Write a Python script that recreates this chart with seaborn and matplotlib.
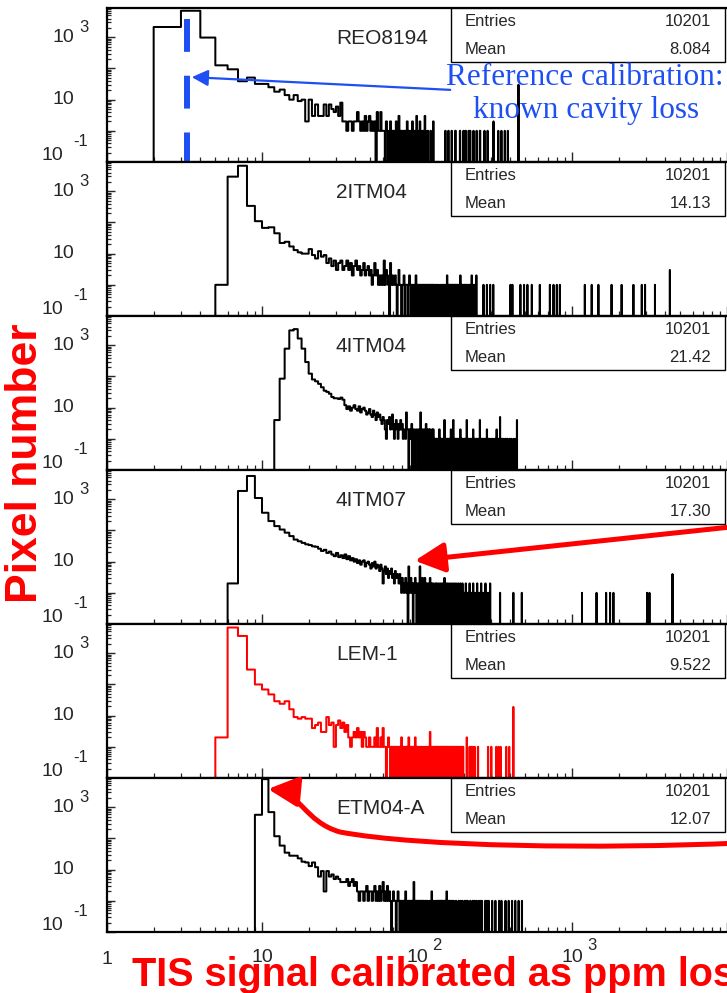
import numpy as np
import pandas as pd
import matplotlib
matplotlib.use("Agg")
import matplotlib.pyplot as plt
import seaborn as sns
from matplotlib.path import Path
from matplotlib.patches import FancyArrowPatch, Rectangle
from matplotlib.ticker import LogLocator, NullFormatter, FixedLocator
from matplotlib.transforms import Affine2D

# ---------------- data ----------------
detectors = ["REO8194", "2ITM04", "4ITM04", "4ITM07", "LEM-1", "ETM04-A"]
entries = ["10201", "10201", "10201", "10201", "10201", "10201"]
means = ["8.084", "14.13", "21.42", "17.30", "9.522", "12.07"]
line_colors = ["black", "black", "black", "black", "#ff0000", "black"]

# bins have unit width; head = consecutive bins from *_start, tail = (bin, count)
p1_start = 2
p1_head = [2140, 7100, 980, 126, 94, 39, 51, 32, 32, 25, 18, 21, 14, 10, 14, 9, 10, 2,
           10, 3, 7, 3, 3, 7, 3, 7, 5, 4, 6, 3, 8]
p1_tail = [(33, 2), (34, 2), (35, 1), (36, 2), (37, 2), (38, 1), (39, 2), (40, 2), (41, 4), (42, 2),
           (43, 1), (44, 2), (45, 1), (46, 3), (47, 1), (48, 2), (49, 3), (50, 1), (51, 2), (52, 1),
           (53, 2), (55, 4), (56, 1), (57, 1), (58, 4), (59, 1), (60, 1), (61, 1), (63, 2), (64, 1),
           (66, 1), (67, 2), (69, 1), (70, 1), (72, 1), (73, 2), (75, 1), (76, 3), (78, 1), (80, 1),
           (82, 1), (84, 1), (86, 2), (88, 1), (91, 1), (93, 2), (95, 1), (98, 1), (99, 3), (101, 1),
           (104, 2), (107, 1), (110, 1), (112, 3), (113, 1), (117, 1), (122, 1), (127, 2), (152, 1),
           (159, 1), (167, 1), (176, 1), (177, 1), (189, 1), (199, 1), (205, 1), (206, 1), (215, 1),
           (220, 1), (231, 1), (242, 1), (254, 1), (255, 1), (272, 1), (285, 1), (311, 2), (334, 1),
           (350, 1), (368, 1), (385, 1), (451, 30)]

p2_start = 5
p2_head = [1, 2950, 6600, 340, 110, 67, 70, 45, 22, 24, 17, 13, 11, 10, 10, 14, 9, 7, 12, 8,
           9, 5, 7, 4, 6, 3, 5, 6, 3, 4, 6, 3, 5, 2, 4, 6, 3, 4, 2, 3, 5, 2, 3, 4, 2, 3, 1, 2,
           5, 2, 3, 1, 2]
p2_tail = [(58, 1), (59, 2), (60, 1), (61, 6), (62, 1), (63, 3), (64, 2), (65, 1), (67, 5), (68, 1),
           (69, 2), (70, 1), (71, 1), (72, 2), (73, 1), (75, 1), (76, 3), (77, 1), (78, 1), (80, 1),
           (81, 1), (82, 2), (84, 1), (85, 1), (86, 1), (88, 1), (89, 2), (90, 1), (92, 1), (93, 1),
           (95, 1), (97, 1), (98, 2), (100, 1), (101, 1), (103, 1), (105, 1), (106, 1), (108, 1),
           (110, 1), (112, 1), (113, 1), (115, 1), (117, 1), (119, 1), (121, 1), (122, 1), (124, 1),
           (126, 1), (128, 1), (131, 1), (134, 1), (137, 1), (141, 1), (145, 1), (148, 1), (151, 1),
           (154, 1), (156, 2), (158, 1), (160, 1), (162, 1), (164, 1), (166, 1), (168, 1), (170, 1),
           (173, 1), (175, 1), (177, 1), (180, 1), (182, 1), (185, 1), (188, 1), (190, 2), (193, 1),
           (196, 1), (199, 1), (202, 1), (205, 1), (208, 1), (211, 1), (214, 1), (218, 1), (221, 1),
           (225, 2), (229, 1), (233, 1), (237, 1), (241, 2), (268, 1), (282, 1), (296, 1), (310, 1),
           (400, 1), (412, 1), (464, 1), (490, 1), (515, 1), (550, 1), (620, 1), (720, 1), (760, 1),
           (798, 1), (835, 1), (1210, 1), (1340, 1), (1480, 1), (1800, 1), (2090, 1), (2490, 1),
           (2820, 1), (2960, 1), (3430, 1), (4280, 3)]

p3_start = 12
p3_head = [4, 85, 780, 3000, 3300, 1650, 780, 290, 123, 80, 70, 58, 45, 35, 32, 28, 22, 20, 20,
           19, 21, 18, 12, 9, 11, 8, 10, 12, 9, 8, 11, 7, 9, 10, 8, 6, 7, 9, 6, 5, 8, 6, 4, 7, 5,
           6, 4, 3, 5, 4, 2, 1, 4, 3, 5, 2, 3, 6, 2, 1, 3, 4, 2, 1, 3, 2, 4, 2, 3, 1, 2]
p3_tail = [(83, 2), (84, 1), (85, 7), (86, 2), (87, 2), (89, 2), (90, 1), (91, 2), (92, 3), (94, 2),
           (95, 2), (96, 1), (98, 2), (99, 2), (100, 1), (102, 2), (103, 2), (105, 7), (106, 2),
           (108, 2), (109, 1), (111, 2), (112, 2), (114, 3), (116, 2), (117, 1), (119, 2), (121, 2),
           (123, 1), (125, 2), (127, 2), (129, 1), (131, 1), (133, 1), (134, 1), (136, 1), (138, 1),
           (139, 2), (141, 1), (143, 1), (145, 1), (147, 1), (148, 1), (150, 4), (152, 1), (154, 1),
           (155, 1), (157, 1), (159, 1), (160, 1), (162, 1), (164, 1), (165, 2), (168, 1), (170, 1),
           (171, 4), (174, 1), (176, 1), (177, 1), (180, 1), (182, 1), (183, 1), (186, 1), (188, 1),
           (190, 2), (193, 1), (194, 1), (196, 1), (200, 1), (202, 1), (204, 1), (207, 1), (209, 4),
           (213, 1), (215, 1), (217, 1), (221, 1), (223, 1), (226, 1), (230, 2), (233, 1), (235, 1),
           (240, 1), (242, 1), (245, 1), (249, 1), (254, 4), (259, 1), (262, 1), (264, 1), (270, 1),
           (273, 1), (276, 1), (282, 2), (288, 1), (291, 1), (295, 1), (302, 1), (306, 1), (310, 1),
           (318, 1), (322, 1), (326, 2), (334, 1), (338, 1), (343, 5), (352, 1), (357, 1), (362, 1),
           (372, 1), (377, 1), (383, 1), (395, 1), (405, 1), (418, 1), (430, 1), (441, 4)]

p4_start = 6
p4_head = [2, 1850, 5600, 1100, 370, 200, 138, 107, 85, 66, 51, 45, 40, 36, 34, 31, 30, 26, 22,
           24, 19, 21, 17, 15, 19, 14, 16, 13, 17, 12, 15, 11, 13, 10, 12, 9, 11, 8, 10, 11, 7, 9,
           10, 8, 6, 9, 7, 10, 6, 8, 7, 5, 8, 6, 2, 5, 7, 4, 6, 3, 5, 4, 6, 3, 4, 2, 5, 3, 4, 3, 2, 4]
p4_tail = [(78, 2), (79, 1), (80, 3), (81, 2), (82, 1), (83, 2), (84, 3), (85, 1), (86, 2), (88, 7),
           (89, 1), (90, 2), (91, 3), (92, 1), (93, 2), (95, 2), (96, 1), (97, 3), (98, 2), (100, 1),
           (101, 2), (102, 1), (104, 7), (105, 2), (106, 1), (108, 3), (109, 1), (110, 2), (112, 3),
           (113, 1), (115, 2), (116, 1), (118, 2), (119, 1), (121, 3), (122, 1), (124, 2), (126, 1),
           (127, 2), (129, 1), (131, 2), (133, 1), (134, 2), (136, 1), (138, 2), (140, 1), (142, 2),
           (144, 1), (146, 2), (148, 1), (150, 3), (152, 1), (154, 2), (156, 1), (158, 2), (160, 1),
           (163, 2), (165, 1), (168, 2), (170, 1), (173, 2), (175, 1), (178, 2), (181, 1), (184, 2),
           (187, 1), (190, 2), (193, 1), (196, 2), (199, 1), (203, 1), (206, 2), (210, 1), (214, 1),
           (218, 2), (222, 1), (226, 1), (230, 2), (235, 1), (240, 1), (244, 2), (249, 1), (254, 1),
           (259, 2), (264, 1), (270, 1), (276, 2), (282, 1), (289, 1), (296, 2), (343, 1), (418, 1),
           (474, 1), (1160, 1), (1440, 1), (1660, 1), (1760, 1), (1850, 1), (3050, 1), (3160, 1),
           (4450, 4)]

p5_start = 5
p5_head = [2, 6700, 3600, 300, 100, 69, 48, 29, 24, 29, 16, 9, 8, 9, 8, 8, 4, 5, 6, 3, 3, 9, 5,
           6, 1, 5, 7, 4, 6, 3, 5, 2, 1, 2, 3, 2, 4, 2, 3, 1, 3, 2]
p5_tail = [(47, 1), (48, 1), (49, 2), (50, 1), (51, 1), (52, 1), (53, 2), (54, 1), (55, 4), (56, 1),
           (57, 1), (58, 2), (59, 1), (60, 4), (61, 1), (62, 1), (64, 1), (65, 2), (66, 1), (68, 1),
           (69, 1), (71, 1), (72, 1), (74, 1), (76, 1), (77, 1), (79, 2), (81, 1), (83, 1), (85, 1),
           (86, 1), (88, 2), (90, 1), (92, 1), (94, 1), (97, 2), (99, 1), (101, 1), (104, 1), (106, 1),
           (109, 1), (112, 1), (115, 1), (118, 1), (121, 3), (124, 1), (127, 1), (129, 1), (131, 1),
           (133, 1), (135, 1), (137, 1), (139, 1), (141, 1), (143, 1), (145, 1), (147, 1), (149, 1),
           (151, 1), (153, 1), (156, 1), (158, 1), (160, 1), (163, 1), (165, 1), (168, 1), (170, 1),
           (173, 1), (176, 1), (179, 1), (182, 1), (185, 1), (188, 1), (191, 1), (195, 1), (198, 1),
           (209, 2), (218, 1), (224, 1), (229, 1), (235, 1), (247, 1), (287, 1), (301, 1), (324, 1),
           (335, 1), (346, 1), (376, 1), (393, 1), (418, 19)]

p6_start = 9
p6_head = [575, 8000, 700, 118, 59, 35, 28, 28, 23, 18, 17, 13, 17, 12, 6, 9, 2, 9, 6, 7, 5, 6,
           5, 4, 4, 4, 5, 3, 4, 5, 3, 4]
p6_tail = [(41, 2), (42, 1), (43, 2), (44, 2), (45, 1), (46, 2), (47, 3), (48, 1), (49, 2), (50, 2),
           (51, 1), (52, 2), (53, 3), (54, 1), (55, 2), (56, 1), (57, 3), (58, 1), (59, 2), (60, 4),
           (61, 1), (62, 2), (63, 1), (64, 3), (65, 1), (66, 2), (67, 1), (69, 1), (70, 2), (71, 1),
           (72, 1), (74, 1), (75, 2), (76, 1), (78, 1), (79, 1), (81, 1), (82, 1), (84, 2), (85, 1),
           (87, 1), (89, 1), (90, 1), (92, 1), (93, 1), (95, 4), (96, 1), (98, 1), (100, 1), (102, 1),
           (104, 1), (106, 1), (108, 1), (110, 1), (113, 1), (116, 1), (120, 1), (124, 2), (128, 1),
           (132, 1), (135, 1), (137, 1), (139, 1), (141, 1), (143, 1), (145, 1), (147, 1), (150, 1),
           (152, 1), (155, 2), (157, 1), (160, 1), (162, 1), (165, 1), (168, 1), (172, 1), (178, 1),
           (185, 1), (190, 1), (196, 1), (203, 1), (207, 1), (212, 1), (220, 1), (228, 1), (234, 1),
           (240, 1), (248, 1), (255, 1), (262, 1), (275, 1), (282, 1), (290, 1), (305, 1), (320, 1),
           (338, 1), (350, 1), (372, 1), (390, 1), (410, 1), (430, 1), (452, 1), (475, 1)]

heads = [(p1_start, p1_head), (p2_start, p2_head), (p3_start, p3_head),
         (p4_start, p4_head), (p5_start, p5_head), (p6_start, p6_head)]
tails = [p1_tail, p2_tail, p3_tail, p4_tail, p5_tail, p6_tail]

x_tick_values = [1, 10, 100, 1000]
y_label_decades = [3, 1, -1]

# ---------------- figure ----------------
sns.set_style("ticks")
plt.rcParams['font.family'] = ['Liberation Sans', 'DejaVu Sans']

W, H = 727, 993
fig = plt.figure(figsize=(W / 100, H / 100), dpi=100)
T = Affine2D().scale(1.0 / W, -1.0 / H).translate(0, 1) + fig.transFigure  # pixel coords, origin top-left

TOP, PH, LEFT, RIGHT = 8, 154, 107, 727
YMIN, YMAX = 0.1, 8700.0
XMIN, XMAX = 1.0, 1.0e4
DEC = PH / (np.log10(YMAX) - np.log10(YMIN))
BLUE = "#1d4ff2"
RED = "#ff0000"

for k, name in enumerate(detectors):
    top = TOP + k * PH
    bot = top + PH
    ax = fig.add_axes([LEFT / W, 1 - bot / H, (RIGHT - LEFT) / W, PH / H])
    start, head = heads[k]
    b = list(range(start, start + len(head))) + [t[0] for t in tails[k]]
    c = list(head) + [t[1] for t in tails[k]]
    df = pd.DataFrame({"signal": np.array(b, dtype=float) + 0.5, "pixels": np.array(c, dtype=float)})
    sns.histplot(data=df, x="signal", weights="pixels", binwidth=1, binrange=(1, 10000),
                 element="step", fill=False, color=line_colors[k], linewidth=1.45, ax=ax)
    ax.set_xscale("log")
    ax.set_yscale("log")
    ax.set_xlim(XMIN, XMAX)
    ax.set_ylim(YMIN, YMAX)
    ax.set_xlabel("")
    ax.set_ylabel("")
    for s in ["left", "top", "bottom"]:
        ax.spines[s].set_linewidth(1.6)
        ax.spines[s].set_color("black")
    ax.spines["right"].set_visible(False)
    ax.xaxis.set_major_locator(FixedLocator([1, 10, 100, 1000, 10000]))
    ax.xaxis.set_minor_locator(LogLocator(base=10, subs=np.arange(2, 10), numticks=30))
    ax.yaxis.set_major_locator(LogLocator(base=10, numticks=30))
    ax.yaxis.set_minor_locator(LogLocator(base=10, subs=np.arange(2, 10), numticks=30))
    ax.xaxis.set_major_formatter(NullFormatter())
    ax.xaxis.set_minor_formatter(NullFormatter())
    ax.yaxis.set_major_formatter(NullFormatter())
    ax.yaxis.set_minor_formatter(NullFormatter())
    ax.tick_params(axis="x", which="major", direction="in", length=7, width=1, top=False, bottom=True)
    ax.tick_params(axis="x", which="minor", direction="in", length=3.5, width=0.9, top=False, bottom=True)
    ax.tick_params(axis="y", which="major", direction="in", length=6, width=1, right=False)
    ax.tick_params(axis="y", which="minor", direction="in", length=3, width=0.9, right=False)

    # y tick labels
    for d in y_label_decades:
        py = bot - (d + 1) * DEC
        if d == -1:
            fig.text(63, bot - 7, "10", transform=T, ha="right", va="center", fontsize=14)
            fig.text(73, bot - 20, "-1", transform=T, ha="left", va="center", fontsize=12)
        else:
            fig.text(74, py, "10", transform=T, ha="right", va="center", fontsize=14)
            if d != 1:
                fig.text(79, py - 10, str(d), transform=T, ha="left", va="center", fontsize=12)

    # title and stats box
    fig.text(336, top + 31, name, transform=T, ha="left", va="center", fontsize=15)
    ax.add_patch(Rectangle(((451 - LEFT) / (RIGHT - LEFT), 1 - 54 / PH),
                           (725 - 451) / (RIGHT - LEFT), 54 / PH, transform=ax.transAxes,
                           facecolor="white", edgecolor="black", linewidth=1.0, zorder=5))
    fig.text(465, top + 14, "Entries", transform=T, ha="left", va="center", fontsize=12, zorder=6)
    fig.text(711, top + 14, entries[k], transform=T, ha="right", va="center", fontsize=12, zorder=6)
    fig.text(465, top + 42, "Mean", transform=T, ha="left", va="center", fontsize=12, zorder=6)
    fig.text(711, top + 42, means[k], transform=T, ha="right", va="center", fontsize=12, zorder=6)

    if k == 0:
        ax.plot([3.28, 3.28], [1 - 11 / PH, 0.0], transform=ax.get_xaxis_transform(),
                color=BLUE, linewidth=4.3, linestyle=(0, (5.5, 4.0)), solid_capstyle="butt",
                dash_capstyle="butt", zorder=4)

# bottom x tick labels (the big red axis title overlaps them, as in the original)
bottom_px = TOP + 6 * PH
for v in x_tick_values:
    px = LEFT + 155 * np.log10(v)
    if v == 1:
        fig.text(px, bottom_px + 27, "1", transform=T, ha="center", va="center", fontsize=14)
    else:
        fig.text(px, bottom_px + 26, "10", transform=T, ha="center", va="center", fontsize=14)
        if v > 10:
            fig.text(px + 15, bottom_px + 13, str(int(round(np.log10(v)))), transform=T,
                     ha="left", va="center", fontsize=12)

# axis titles
fig.text(132, 986, "TIS signal calibrated as ppm loss", transform=T, ha="left", va="baseline",
         fontsize=28.5, fontweight="bold", color=RED, zorder=10)
fig.text(26, 463, "Pixel number", transform=T, ha="center", va="center", rotation=90,
         fontsize=32, fontweight="bold", color=RED)

# blue annotation
fig.text(585, 85, "Reference calibration:", transform=T, ha="center", va="baseline",
         fontsize=22.5, color=BLUE, family=["Liberation Serif", "DejaVu Serif"])
fig.text(586, 118, "known cavity loss", transform=T, ha="center", va="baseline",
         fontsize=22.5, color=BLUE, family=["Liberation Serif", "DejaVu Serif"])
fig.add_artist(FancyArrowPatch((453, 90), (189, 77), transform=T,
                               arrowstyle="-|>,head_length=0.7,head_width=0.35",
                               mutation_scale=14, color=BLUE, linewidth=1.6))

# red straight arrow (panel 4)
fig.add_artist(FancyArrowPatch((740, 526), (412, 561), transform=T,
                               arrowstyle="-|>,head_length=0.9,head_width=0.45",
                               mutation_scale=20, color=RED, linewidth=3.6))

# red curved arrow (panel 6)
verts = [(740, 843), (600, 849), (420, 847), (340, 832),
         (305, 822), (300, 792), (268, 789)]
codes = [Path.MOVETO, Path.CURVE4, Path.CURVE4, Path.CURVE4,
         Path.CURVE4, Path.CURVE4, Path.CURVE4]
fig.add_artist(FancyArrowPatch(path=Path(verts, codes), transform=T,
                               arrowstyle="-|>,head_length=0.9,head_width=0.45",
                               mutation_scale=20, color=RED, linewidth=3.6))

fig.savefig("out.png", dpi=100)
